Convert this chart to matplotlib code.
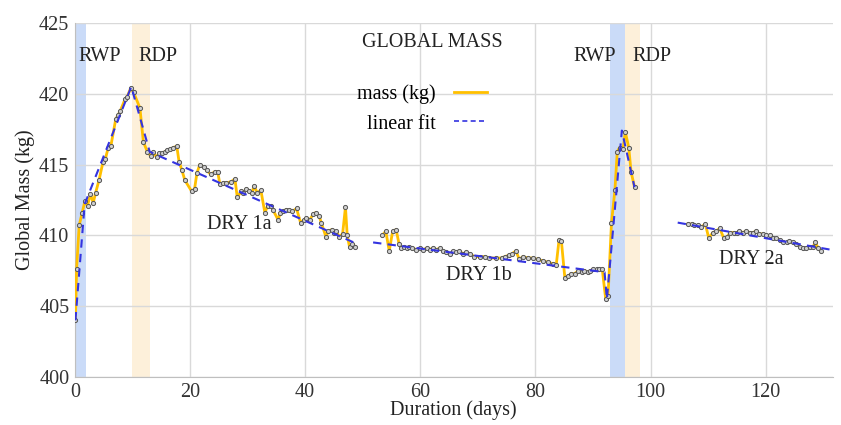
import numpy as np
import matplotlib
matplotlib.use('Agg')
import matplotlib.pyplot as plt
from matplotlib.lines import Line2D

plt.rcParams['font.family'] = ['Liberation Serif', 'DejaVu Serif']

days1 = [0.1, 0.3, 0.75, 1.27, 1.74, 2.2, 2.7, 3.2, 3.6, 4.2, 4.9, 5.3, 5.8, 6.25, 7.1, 7.5,
         7.9, 8.7, 9.1, 9.7, 10.2, 11.3, 11.9, 12.6, 13.2, 13.6, 14.2, 14.6, 15.2, 15.6, 16.0,
         16.6, 17.1, 17.7, 18.1, 18.6, 19.1, 20.3, 20.8, 21.2, 21.7, 22.4, 22.9, 23.6, 24.3,
         24.8, 25.2, 25.7, 26.3, 27.2, 27.8, 28.2, 28.9, 29.2, 29.8, 30.3, 30.8, 31.1, 31.7,
         32.3, 33.0, 33.5, 34.0, 34.4, 35.3, 35.7, 36.2, 36.6, 37.2, 37.8, 38.5, 39.2, 39.8,
         40.2, 40.8, 41.4, 41.8, 42.4, 42.8, 43.6, 44.0, 44.6, 45.0, 45.4, 45.9, 46.5, 47.0,
         47.3, 47.7, 48.2, 48.7]
mass1 = [404.0, 407.6, 410.7, 411.6, 412.4, 412.1, 412.9, 412.3, 413.0, 413.9, 415.2, 415.4,
         416.2, 416.3, 418.2, 418.5, 418.8, 419.6, 419.8, 420.4, 420.1, 419.0, 416.6, 415.9,
         415.6, 415.9, 415.5, 415.8, 415.8, 415.9, 416.0, 416.1, 416.2, 416.3, 415.2, 414.6,
         413.9, 413.1, 413.3, 414.4, 415.0, 414.8, 414.6, 414.3, 414.5, 414.5, 413.6, 413.7,
         413.7, 413.8, 414.0, 412.7, 413.1, 413.0, 413.3, 413.1, 413.0, 413.5, 413.0, 413.2,
         411.6, 412.1, 412.1, 411.8, 411.1, 411.6, 411.7, 411.8, 411.8, 411.7, 411.9, 410.9,
         411.1, 411.2, 411.1, 411.5, 411.6, 411.4, 410.9, 409.9, 410.3, 410.4, 410.2, 410.3,
         409.9, 410.1, 412.0, 410.0, 409.2, 409.4, 409.2]

days2 = [53.4, 54.0, 54.6, 55.2, 55.8, 56.3, 56.7, 57.1, 57.6, 58.0, 58.6, 59.3, 59.9, 60.5,
         61.1, 61.6, 62.2, 62.8, 63.4, 63.9, 64.5, 65.1, 65.7, 66.2, 66.8, 67.4, 68.0, 68.6,
         69.4, 70.3, 71.2, 72.0, 73.2, 74.1, 74.7, 75.4, 75.9, 76.6, 77.2, 77.8, 78.7, 79.6,
         80.4, 81.3, 82.2, 83.0, 83.6, 84.1, 84.5, 85.1, 85.6, 86.2, 86.8, 87.4, 88.0, 88.5,
         89.1, 89.5, 90.0, 90.6, 91.1, 91.6, 92.2, 92.6, 93.2, 93.8, 94.2, 94.6, 95.2, 95.6,
         96.2, 96.6, 97.2]
mass2 = [410.0, 410.3, 408.9, 410.3, 410.4, 409.4, 409.1, 409.2, 409.1, 409.2, 409.1, 409.0,
         409.1, 409.0, 409.1, 409.0, 409.1, 409.0, 409.1, 408.9, 408.8, 408.7, 408.9, 408.8,
         408.9, 408.7, 408.8, 408.7, 408.5, 408.5, 408.5, 408.4, 408.4, 408.4, 408.5, 408.6,
         408.7, 408.9, 408.3, 408.5, 408.4, 408.4, 408.3, 408.2, 408.1, 408.0, 407.9, 409.7,
         409.6, 407.0, 407.1, 407.3, 407.3, 407.5, 407.4, 407.5, 407.4, 407.5, 407.6, 407.6,
         407.6, 407.6, 405.5, 405.7, 410.9, 413.2, 415.9, 416.2, 416.1, 417.3, 416.2, 414.5,
         413.4]

days3 = [106.5, 107.1, 107.6, 108.2, 108.8, 109.5, 110.1, 110.8, 111.4, 112.0, 112.7, 113.3,
         113.8, 114.4, 115.0, 115.4, 116.0, 116.6, 117.2, 117.8, 118.3, 118.9, 119.5, 120.1,
         120.7, 121.2, 121.8, 122.4, 123.0, 123.6, 124.1, 124.7, 125.3, 125.9, 126.5, 127.0,
         127.6, 128.2, 128.6, 129.1, 129.6]
mass3 = [410.8, 410.8, 410.7, 410.7, 410.6, 410.8, 409.8, 410.2, 410.3, 410.5, 409.8, 409.9,
         410.2, 410.2, 410.2, 410.3, 410.2, 410.3, 410.2, 410.2, 410.3, 410.1, 410.1, 410.0,
         410.0, 409.8, 409.8, 409.7, 409.5, 409.5, 409.6, 409.5, 409.4, 409.2, 409.1, 409.1,
         409.2, 409.2, 409.5, 409.1, 408.9]

# piecewise linear fits
fit1_days = [0.1, 1.7, 9.8, 13.0, 49.0]
fit1_mass = [404.0, 412.2, 420.5, 415.9, 409.4]
fit2_days = [51.8, 92.0, 92.4, 95.0, 97.2]
fit2_mass = [409.5, 407.4, 405.5, 417.4, 413.4]
fit3_days = [104.7, 131.1]
fit3_mass = [410.9, 409.0]

# phase bands (start, end)
rwp_spans = [(0, 2), (93.0, 95.5)]
rdp_spans = [(10, 13.1), (95.5, 98.1)]

phase_labels = ['RWP', 'RDP', 'RWP', 'RDP', 'DRY 1a', 'DRY 1b', 'DRY 2a']
label_x = [4.3, 14.4, 90.3, 100.3, 28.6, 70.1, 117.5]
label_y = [422.6, 422.6, 422.6, 422.6, 410.8, 407.15, 408.3]

line_col = '#FFC000'
fit_col = '#3434E0'

fig, ax = plt.subplots(figsize=(8.41, 4.25), dpi=100)
fig.subplots_adjust(left=0.089, right=0.99, top=0.946, bottom=0.113)

for a, b in rwp_spans:
    ax.axvspan(a, b, color='#CADBF8', lw=0, zorder=0)
for a, b in rdp_spans:
    ax.axvspan(a, b, color='#FDF0DA', lw=0, zorder=0)

for d, m in [(days1, mass1), (days2, mass2), (days3, mass3)]:
    ax.plot(d, m, color=line_col, lw=2, zorder=3)
    ax.plot(d, m, ls='none', marker='o', ms=3, mfc='#CFCFCF', mec='#555555', mew=0.7, zorder=4)

for d, m in [(fit1_days, fit1_mass), (fit2_days, fit2_mass), (fit3_days, fit3_mass)]:
    ax.plot(d, m, color=fit_col, lw=1.5, ls=(0, (4, 3)), zorder=5)

for t, x, y in zip(phase_labels, label_x, label_y):
    ax.text(x, y, t, ha='center', va='center', fontsize=14.5, color='#222222')

ax.text(0.472, 0.945, 'GLOBAL MASS', transform=ax.transAxes, ha='center', va='center',
        fontsize=14.5, color='#222222')

handles = [Line2D([], [], color=line_col, lw=2),
           Line2D([], [], color=fit_col, lw=1.2, ls=(0, (3, 2)))]
ax.legend(handles, ['mass (kg)', 'linear fit'], loc='upper right', bbox_to_anchor=(0.568, 0.877),
          frameon=False, markerfirst=False, fontsize=14.5, handlelength=1.65,
          labelspacing=0.5, handletextpad=0.9)

ax.set_xlim(0, 131.6)
ax.set_ylim(400, 425)
ax.set_xticks(range(0, 121, 20))
ax.set_yticks(range(400, 426, 5))
ax.tick_params(length=0, labelsize=14.5, colors='#333333', pad=4)
ax.grid(True, color='#D9D9D9', lw=1)
ax.set_axisbelow(True)
for s in ['top', 'right']:
    ax.spines[s].set_visible(False)
for s in ['left', 'bottom']:
    ax.spines[s].set_color('#BFBFBF')
ax.set_xlabel('Duration (days)', fontsize=14.5, color='#222222', labelpad=-1)
ax.set_ylabel('Global Mass (kg)', fontsize=14.5, color='#222222', labelpad=3)

fig.savefig('out.png', dpi=100)
